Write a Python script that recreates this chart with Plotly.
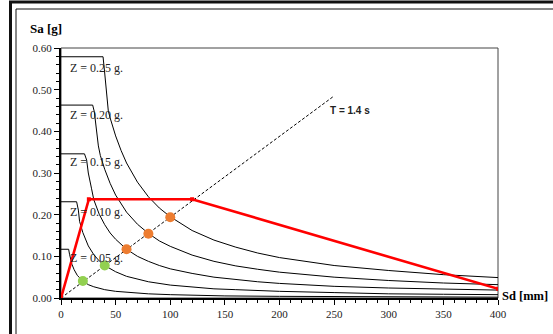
import plotly.graph_objects as go

# ---- data ----
sd25 = [0, 38.5, 40, 41.5, 43.3, 45, 50, 55, 60, 70, 80, 90, 100, 120, 140, 160, 180, 200, 250, 300, 350, 400]
sa25 = [0.579, 0.579, 0.54, 0.49, 0.449, 0.432, 0.389, 0.354, 0.324, 0.278, 0.243, 0.216, 0.195, 0.162, 0.139, 0.122, 0.108, 0.097, 0.078, 0.066, 0.056, 0.049]

sd20 = [0, 29, 30.5, 32.7, 34.2, 36, 40, 45, 50, 60, 70, 80, 90, 100, 120, 140, 160, 180, 200, 250, 300, 350, 400]
sa20 = [0.463, 0.463, 0.447, 0.40, 0.365, 0.342, 0.309, 0.275, 0.247, 0.206, 0.177, 0.155, 0.137, 0.124, 0.103, 0.088, 0.077, 0.069, 0.062, 0.050, 0.042, 0.036, 0.032]

sd15 = [0, 21.5, 23.5, 25, 28, 30, 35, 40, 45, 50, 60, 70, 80, 90, 100, 120, 140, 160, 180, 200, 250, 300, 350, 400]
sa15 = [0.346, 0.346, 0.331, 0.30, 0.262, 0.236, 0.201, 0.176, 0.156, 0.141, 0.117, 0.100, 0.088, 0.078, 0.070, 0.059, 0.050, 0.044, 0.039, 0.035, 0.028, 0.024, 0.021, 0.019]

sd10 = [0, 14.3, 15.9, 17, 20, 25, 30, 35, 40, 50, 60, 70, 80, 100, 120, 140, 160, 200, 250, 300, 350, 400]
sa10 = [0.231, 0.231, 0.211, 0.184, 0.157, 0.125, 0.104, 0.089, 0.078, 0.063, 0.052, 0.045, 0.039, 0.031, 0.026, 0.022, 0.020, 0.016, 0.013, 0.010, 0.009, 0.008]

sd05 = [0, 7.0, 7.8, 9, 10, 12, 15, 20, 25, 30, 40, 50, 60, 80, 100, 150, 200, 300, 400]
sa05 = [0.117, 0.117, 0.105, 0.090, 0.081, 0.068, 0.054, 0.041, 0.032, 0.027, 0.020, 0.016, 0.014, 0.010, 0.008, 0.005, 0.004, 0.003, 0.002]

z_labels = ["Z = 0.25 g.", "Z = 0.20 g.", "Z = 0.15 g.", "Z = 0.10 g.", "Z = 0.05 g."]
z_label_sa = [0.552, 0.439, 0.327, 0.207, 0.095]

t_sd = [0, 250]
t_sa = [0, 0.485]
t_label = "T = 1.4 s"

red_sd = [0, 25.5, 120, 400]
red_sa = [0, 0.237, 0.237, 0.022]

green_sd = [20, 40]
green_sa = [0.041, 0.078]
orange_sd = [60, 80, 100]
orange_sa = [0.117, 0.154, 0.194]

x_ticks = [0, 50, 100, 150, 200, 250, 300, 350, 400]
y_ticks = [0.0, 0.1, 0.2, 0.3, 0.4, 0.5, 0.6]

# ---- figure ----
W, H = 553, 334
L, R, T, B = 61, 55, 48, 36
pw, ph = W - L - R, H - T - B

def px(x):
    return (x - L) / pw

def py(y):
    return (H - B - y) / ph

fig = go.Figure()
for sd, sa in [(sd25, sa25), (sd20, sa20), (sd15, sa15), (sd10, sa10), (sd05, sa05)]:
    fig.add_trace(go.Scatter(x=sd, y=sa, mode="lines", line=dict(color="black", width=1),
                             showlegend=False, hoverinfo="skip"))

fig.add_trace(go.Scatter(x=t_sd, y=t_sa, mode="lines",
                         line=dict(color="black", width=1, dash="3px,2px"),
                         showlegend=False, hoverinfo="skip"))
fig.add_trace(go.Scatter(x=red_sd, y=red_sa, mode="lines+markers",
                         line=dict(color="#ff0000", width=2.6),
                         marker=dict(color="#ff0000", size=4, symbol="square"),
                         showlegend=False, hoverinfo="skip"))
fig.add_trace(go.Scatter(x=green_sd, y=green_sa, mode="markers",
                         marker=dict(color="#92d050", size=10),
                         showlegend=False, hoverinfo="skip"))
fig.add_trace(go.Scatter(x=orange_sd, y=orange_sa, mode="markers",
                         marker=dict(color="#ed7d31", size=10),
                         showlegend=False, hoverinfo="skip"))

serif = "Liberation Serif, Times New Roman, serif"
annotations = []
for txt, ya in zip(z_labels, z_label_sa):
    annotations.append(dict(x=6.0, y=ya, text=txt, showarrow=False, xanchor="left", yanchor="middle",
                            font=dict(family=serif, size=12, color="#222")))
annotations.append(dict(x=244, y=0.449, text="<b>" + t_label + "</b>", showarrow=False,
                        xanchor="left", yanchor="middle",
                        font=dict(family="Liberation Sans, Arial, sans-serif", size=10, color="#222")))
annotations.append(dict(xref="paper", yref="paper", x=px(28), y=py(29), text="<b>Sa [g]</b>",
                        showarrow=False, xanchor="left", yanchor="middle",
                        font=dict(family=serif, size=13, color="black")))
annotations.append(dict(xref="paper", yref="paper", x=px(500), y=py(296), text="<b>Sd [mm]</b>",
                        showarrow=False, xanchor="left", yanchor="middle",
                        font=dict(family=serif, size=12.5, color="black")))

shapes = [
    # plot box (top/right)
    dict(type="rect", xref="paper", yref="paper", x0=0, x1=1, y0=0, y1=1,
         line=dict(color="#444", width=1), layer="below"),
    # outer frame (thick), right/bottom edges lie outside the picture
    dict(type="rect", xref="paper", yref="paper", x0=px(10.5), x1=px(570), y0=py(2), y1=py(350),
         line=dict(color="#111", width=3)),
    # inner frame (thin)
    dict(type="rect", xref="paper", yref="paper", x0=px(16), x1=px(565), y0=py(9), y1=py(345),
         line=dict(color="#111", width=1)),
]

fig.update_layout(
    width=W, height=H,
    margin=dict(l=L, r=R, t=T, b=B),
    paper_bgcolor="white", plot_bgcolor="white",
    annotations=annotations, shapes=shapes,
    xaxis=dict(range=[0, 400], tickvals=x_ticks, ticktext=[str(v) for v in x_ticks],
               showgrid=False, zeroline=False, showline=True, linecolor="black", linewidth=2,
               ticks="outside", ticklen=5, tickcolor="black", tickwidth=1,
               minor=dict(dtick=10, ticks="outside", ticklen=3, tickcolor="black", tickwidth=1, showgrid=False),
               tickfont=dict(family=serif, size=11, color="#222")),
    yaxis=dict(range=[0, 0.6], tickvals=y_ticks, ticktext=["%.2f" % v for v in y_ticks],
               showgrid=False, zeroline=False, showline=True, linecolor="black", linewidth=2,
               ticks="outside", ticklen=5, tickcolor="black", tickwidth=1,
               minor=dict(dtick=0.02, ticks="outside", ticklen=3, tickcolor="black", tickwidth=1, showgrid=False),
               tickfont=dict(family=serif, size=11, color="#222")),
)

fig.write_html("out.html", config={"displayModeBar": False, "displaylogo": False},
               post_script="document.body.style.margin='0';document.body.style.overflow='hidden';")
